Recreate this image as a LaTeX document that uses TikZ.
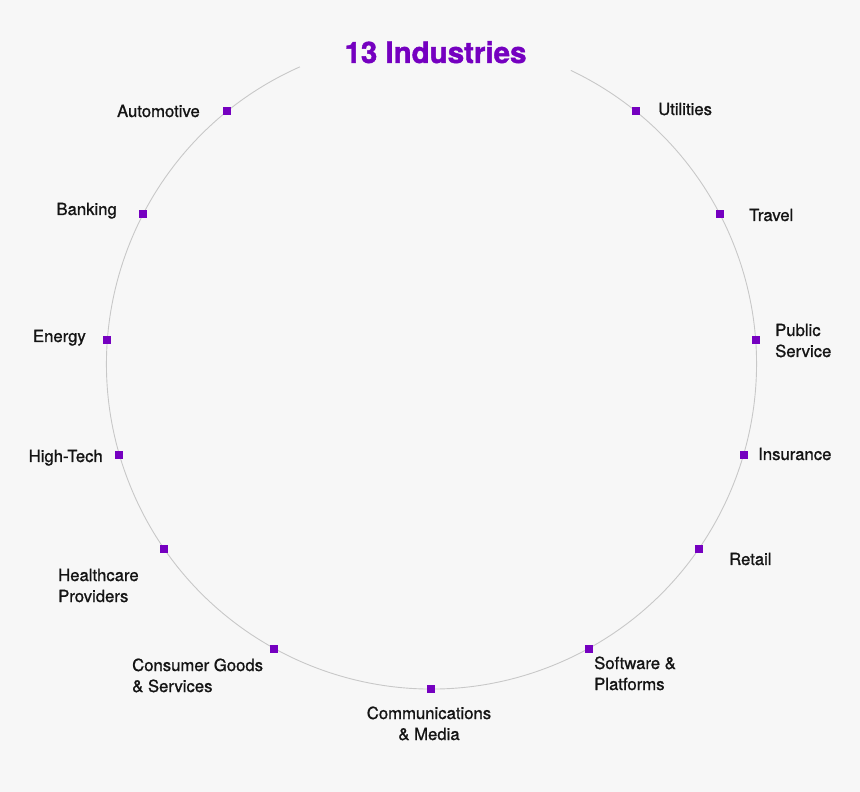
\documentclass[tikz,border=0pt]{standalone}
\usepackage{fontspec}
\setmainfont{TeX Gyre Heros}
\newfontfamily\indfont[FakeBold=1.0]{TeX Gyre Heros}
\newfontfamily\titlefont[FakeBold=1.4]{TeX Gyre Heros}
\definecolor{indpurple}{HTML}{7500C0}
\definecolor{indgray}{HTML}{C8C8C8}
\definecolor{indtext}{HTML}{141414}
\definecolor{indback}{HTML}{F7F7F7}

\begin{document}
\begin{tikzpicture}[x=1pt,y=1pt,
  marker/.style={rectangle,fill=indpurple,inner sep=0pt,minimum size=8pt},
  industry/.style={font=\indfont\fontsize{16.7}{21}\selectfont,text=indtext,inner sep=0pt,align=left}]
  % background and page size
  \fill[indback] (-431.5,-428) rectangle (428.5,364);
  \useasboundingbox (-431.5,-428) rectangle (428.5,364);
  % title
  \node[font=\titlefont\bfseries\fontsize{29.5}{36}\selectfont,text=indpurple,anchor=base,inner sep=0pt] (title) at (4,301) {13 Industries};
  % ring
  \draw[indgray,line width=0.9pt] (113.9:325) arc[start angle=113.9,end angle=424.6,radius=325];
  % markers
  \node[marker] (automotive) at (129:325) {};
  \node[marker] (banking) at (152.6:325) {};
  \node[marker] (energy) at (175.8:325) {};
  \node[marker] (hightech) at (-163.8:325) {};
  \node[marker] (healthcare) at (-145.4:325) {};
  \node[marker] (consumer) at (-118.9:325) {};
  \node[marker] (comms) at (-90:325) {};
  \node[marker] (software) at (-61.1:325) {};
  \node[marker] (retail) at (-34.6:325) {};
  \node[marker] (insurance) at (-16.2:325) {};
  \node[marker] (public) at (4.2:325) {};
  \node[marker] (travel) at (27.4:325) {};
  \node[marker] (utilities) at (51:325) {};
  % labels (two-line labels sit on their last baseline)
  \node[industry,anchor=base east] (automotive-l) at (-231.5,247) {Automotive};
  \node[industry,anchor=base east] (banking-l) at (-314.5,149) {Banking};
  \node[industry,anchor=base east] (energy-l) at (-345.5,22) {Energy};
  \node[industry,anchor=base east] (hightech-l) at (-328.5,-98) {High-Tech};
  \node[industry,anchor=base west] (healthcare-l) at (-373.5,-238) {Healthcare\\Providers};
  \node[industry,anchor=base west] (consumer-l) at (-299.5,-328) {Consumer Goods\\\& Services};
  \node[industry,align=center,anchor=base] (comms-l) at (-2.5,-376) {Communications\\\& Media};
  \node[industry,anchor=base west] (software-l) at (162.5,-326) {Software \&\\Platforms};
  \node[industry,anchor=base west] (retail-l) at (297.5,-201) {Retail};
  \node[industry,anchor=base west] (insurance-l) at (326.5,-96) {Insurance};
  \node[industry,anchor=base west] (public-l) at (343.5,7) {Public\\Service};
  \node[industry,anchor=base west] (travel-l) at (317.5,143) {Travel};
  \node[industry,anchor=base west] (utilities-l) at (226.5,249) {Utilities};
\end{tikzpicture}
\end{document}
